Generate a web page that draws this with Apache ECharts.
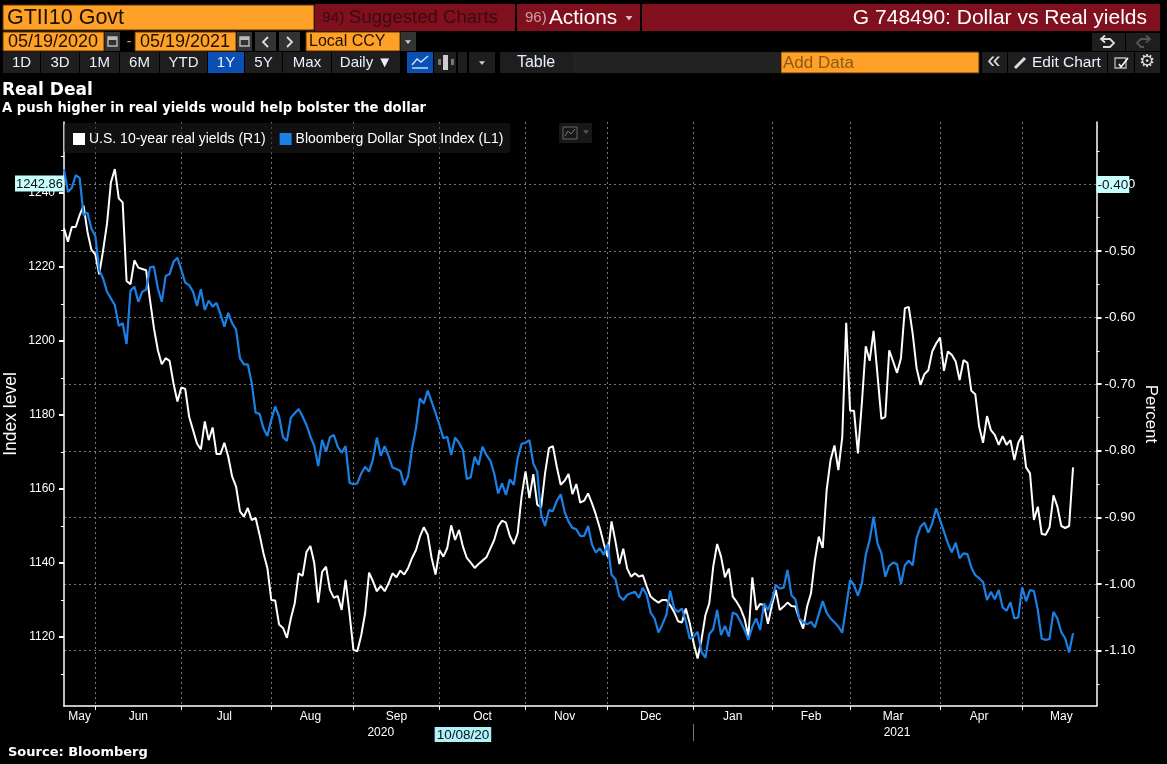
<!DOCTYPE html>
<html><head><meta charset="utf-8">
<style>html,body{margin:0;padding:0;background:#000;overflow:hidden}#c{width:1167px;height:764px}</style>
<script src="https://cdn.jsdelivr.net/npm/echarts@6/dist/echarts.min.js"></script>
</head><body><div id="c"></div>
<script>
const dollarIndex=[
1246.4,1240.3,1241.4,1244.8,1244.1,1234,1234.7,1230.4,1228.4,1219.2,
1216.9,1213.3,1211.5,1209.7,1204.1,1204.8,1199.2,1213.6,1214.7,1210.6,
1213.3,1213.9,1219.9,1220.1,1214.2,1210.6,1217.6,1218.1,1221.4,1222.5,
1219.2,1215.8,1215.1,1213.3,1209.5,1214,1208.4,1210.9,1209.3,1210.3,
1207.3,1203.9,1207.6,1204.8,1203.1,1195.3,1193.7,1193.7,1188.6,1180.6,
1180.3,1176.4,1174.3,1178.7,1182.3,1179.6,1174,1173,1179.3,1180.5,
1181.6,1179.6,1177.3,1174.2,1171.6,1166.2,1173.3,1170.1,1174,1174.6,
1171.4,1169.8,1171.6,1161.7,1161.3,1161.5,1164.2,1166,1164.7,1168,
1173.9,1169,1171.6,1168.9,1165.8,1165.4,1164.9,1161.1,1163.5,1171,
1176.4,1184.5,1183.1,1186.6,1183.6,1180.5,1177.3,1173.7,1174.1,1169.2,
1173.9,1172.5,1170.5,1162.7,1163.2,1168.7,1166.5,1171.4,1169.2,1167.7,
1164.2,1158.8,1161.5,1158.4,1162.6,1161.1,1168.3,1172.2,1172.5,1173.2,
1166.9,1164.7,1153,1150,1154.3,1154,1156.8,1158.6,1153.9,1151.2,
1149.5,1149.1,1147.3,1147.3,1150,1145,1142.8,1144,1142.2,1145.1,
1136.8,1135.6,1131.1,1130,1131.4,1131.8,1132.2,1130.6,1133.3,1131.3,
1126.6,1125,1121.2,1123.4,1125.9,1132.5,1127.7,1126.8,1127.7,1124.1,
1119.5,1120.1,1121.4,1116,1114.4,1120.8,1122.1,1127.3,1120.5,1123,
1120.1,1126.6,1126.1,1124.1,1121.9,1119.2,1122.8,1125,1121.9,1129.1,
1127.3,1130,1134,1133.1,1133.3,1138.1,1131.3,1130.2,1125,1124.1,
1123.4,1124.1,1122.6,1126.2,1129.7,1126.6,1125,1124,1122.8,1121.2,
1128.2,1135.4,1134,1131.2,1134.5,1142.2,1146.2,1152.5,1145.3,1142.6,
1136.3,1139.2,1140.1,1139.7,1134.3,1139.4,1140.6,1139.4,1146.7,1149.8,
1150.9,1148.2,1150.7,1154.8,1151.6,1148.5,1145.3,1142.9,1145.5,1141.3,
1142.6,1142.4,1138.8,1136.7,1135.9,1134.8,1130,1132.2,1130.2,1132.7,
1128,1127.1,1129.4,1125,1125.3,1133.4,1129.7,1132.7,1132.4,1127.3,
1119.6,1119.2,1119.5,1126.8,1125,1121.3,1119.6,1115.8,1121];
const realYields=[
-.466,-.486,-.464,-.464,-.446,-.432,-.471,-.498,-.505,-.535,
-.499,-.459,-.397,-.377,-.421,-.427,-.545,-.550,-.514,-.525,
-.527,-.529,-.574,-.616,-.649,-.670,-.661,-.665,-.699,-.726,
-.705,-.707,-.749,-.769,-.789,-.798,-.756,-.784,-.765,-.805,
-.805,-.788,-.809,-.839,-.854,-.891,-.899,-.886,-.904,-.901,
-.926,-.954,-.976,-1.024,-1.025,-1.061,-1.066,-1.081,-1.052,-1.029,
-.984,-.988,-.952,-.943,-.969,-1.028,-.982,-.974,-1.009,-1.021,
-1.018,-1.039,-.994,-1.044,-1.099,-1.101,-1.077,-1.044,-.983,-.996,
-1.011,-1.003,-1.011,-.999,-.984,-.990,-.980,-.986,-.976,-.961,
-.949,-.929,-.915,-.926,-.961,-.986,-.949,-.959,-.946,-.912,
-.934,-.919,-.944,-.961,-.968,-.976,-.970,-.965,-.960,-.947,
-.934,-.914,-.905,-.908,-.928,-.940,-.924,-.869,-.831,-.871,
-.835,-.881,-.885,-.834,-.796,-.793,-.824,-.851,-.845,-.835,
-.865,-.850,-.878,-.875,-.864,-.879,-.896,-.916,-.939,-.959,
-.906,-.936,-.970,-.947,-.977,-.989,-.984,-.989,-.987,-1.004,
-1.019,-1.024,-1.028,-1.024,-1.024,-1.032,-1.042,-1.056,-1.058,-1.037,
-1.059,-1.089,-1.112,-1.084,-1.047,-1.029,-.974,-.940,-.959,-.990,
-.977,-1.019,-1.027,-1.037,-1.052,-1.079,-.990,-1.039,-1.030,-1.032,
-1.060,-1.032,-1.009,-1.039,-1.034,-1.028,-1.033,-1.034,-1.052,-1.067,
-1.034,-1.014,-.964,-.929,-.946,-.859,-.814,-.792,-.829,-.779,
-.608,-.740,-.740,-.804,-.729,-.643,-.665,-.620,-.686,-.752,
-.749,-.649,-.666,-.683,-.661,-.586,-.584,-.624,-.676,-.701,
-.685,-.679,-.651,-.639,-.630,-.680,-.651,-.656,-.666,-.694,
-.664,-.668,-.710,-.715,-.764,-.788,-.748,-.769,-.776,-.791,
-.778,-.791,-.784,-.814,-.788,-.777,-.825,-.834,-.904,-.884,
-.925,-.926,-.915,-.867,-.884,-.913,-.916,-.913,-.825];
const leftTicks=[1120,1140,1160,1180,1200,1220,1240];
const leftMinorTicks=[1110,1130,1150,1170,1190,1210,1230,1250];
const rightTicks=[-1.10,-1.00,-0.90,-0.80,-0.70,-0.60,-0.50,-0.40];
const rightMinorTicks=[-1.15,-1.05,-0.95,-0.85,-0.75,-0.65,-0.55,-0.45,-0.35];
const monthLabels=['May','Jun','Jul','Aug','Sep','Oct','Nov','Dec','Jan','Feb','Mar','Apr','May'];
const monthLabelIdx=[4,19,41,63,85,107,128,150,171,191,212,234,255];
const holidays=['2020-12-25','2021-01-01','2021-04-02'];

// business-day category axis
const dates=[];
for(let d=new Date(Date.UTC(2020,4,20));dates.length<265;d=new Date(d.getTime()+864e5)){
  const w=d.getUTCDay(),s=d.toISOString().slice(0,10);
  if(w!==0&&w!==6&&holidays.indexOf(s)<0)dates.push(s);
}
const monthStart=new Set();
dates.forEach((s,i)=>{if(i>0&&s.slice(5,7)!==dates[i-1].slice(5,7))monthStart.add(i);});
const yearMark={};yearMark[81]='2020';yearMark[213]='2021';yearMark[102]='{tag|10/08/20}';
const yearSep=dates.findIndex(s=>s.startsWith('2021'));

const F='"Liberation Sans",Arial,sans-serif';
const ORANGE='#ffa028',RED='#80101e',BTN='#1e1e1e';
const g=[];
function box(x,y,w,h,fill,stroke){g.push({type:'rect',shape:{x,y,width:w,height:h},style:{fill,stroke:stroke||null,lineWidth:stroke?1:0},silent:true});}
function txt(t,x,y,size,color,align,weight,family){g.push({type:'text',x,y,style:{text:t,fill:color,fontSize:size,fontFamily:family||F,fontWeight:weight||'normal',align:align||'center',verticalAlign:'middle'},silent:true});}
function poly(points,stroke,w,fill){g.push({type:'polyline',shape:{points},style:{stroke,lineWidth:w||1.5,fill:fill||null},silent:true});}
function tri(x,y,s,c){g.push({type:'polygon',shape:{points:[[x-s,y-s*.6],[x+s,y-s*.6],[x,y+s*.7]]},style:{fill:c},silent:true});}
function cal(x,y){box(x,y,15,19,'#333');g.push({type:'rect',shape:{x:x+3,y:y+5,width:9,height:9},style:{fill:null,stroke:'#bbb',lineWidth:1.4},silent:true});box(x+3,y+5,9,3,'#bbb');}

// row 1
box(3,5,311,25,ORANGE,'#5a3400');txt('GTII10 Govt',7,18,21.5,'#1c1200','left');
box(315,4,200,27,RED);txt('94)',322,18,15.5,'#3b0a14','left');txt('Suggested Charts',349,18,18.6,'#3b0a14','left');
box(517,4,123,27,RED);txt('96)',525,18,15,'#c9a0a6','left');txt('Actions',549,18,20.8,'#ffffff','left');tri(629,18,3.5,'#d8c0c4');
box(642,4,518,27,RED);txt('G 748490: Dollar vs Real yields',1147,18,21,'#ffffff','right');
// row 2
box(3,32,101,19,ORANGE,'#5a3400');txt('05/19/2020',8,42,18,'#1c1200','left');cal(105,32);
txt('-',129,42,14,ORANGE);
box(135,32,101,19,ORANGE,'#5a3400');txt('05/19/2021',140,42,18,'#1c1200','left');cal(237,32);
box(255,32,21,19,'#333');poly([[268,37],[263,42],[268,47]],'#ddd',1.8);
box(279,32,21,19,'#333');poly([[287,37],[292,42],[287,47]],'#ddd',1.8);
box(306,32,94,19,ORANGE,'#5a3400');txt('Local CCY',309,42,16,'#1c1200','left');
box(401,32,15,19,'#333');tri(408,42,3,'#ccc');
box(1092,33,33,18,'#1e1e1e');poly([[1102,39],[1110,39],[1114,43],[1110,47],[1103,47]],'#ddd',1.8);poly([[1105,35.5],[1101,39],[1105,42.5]],'#ddd',1.8);
box(1126,33,34,18,'#1e1e1e');poly([[1149,39],[1141,39],[1137,43],[1141,47],[1144,47]],'#555',1.8);poly([[1146,35.5],[1150,39],[1146,42.5]],'#555',1.8);
// row 3
const rangeBtns=[['1D',3,37],['3D',41,38],['1M',80,39],['6M',120,39],['YTD',160,47],['1Y',208,36],['5Y',245,37],['Max',283,48],['Daily ▼',332,68]];
rangeBtns.forEach(b=>{box(b[1],52,b[2],21,b[0]==='1Y'?'#0a4fb4':BTN);txt(b[0],b[1]+b[2]/2,63,15,'#e8f0ff');});
box(407,52,26,21,'#0a4fb4');poly([[412,65],[417,59],[421,62],[428,56]],'#cfe4ff',1.4);poly([[412,68],[428,68]],'#cfe4ff',1.4);
box(434,52,22,21,BTN);box(443,55,5,15,'#ccc');box(438,59,3,6,'#777');box(451,59,3,6,'#777');
box(458,52,9,21,BTN);box(469,52,26,21,BTN);tri(482,63,3,'#ccc');
box(500,52,280,21,'#222220');box(500,52,73,21,BTN);txt('Table',536,63,16,'#e8f0ff');
box(781,52,198,21,ORANGE,'#5a3400');txt('Add Data',783,63,17,'#8a5a14','left');
box(982,52,25,21,BTN);txt('«',994,61,24,'#ddd');
box(1008,52,99,21,BTN);poly([[1015,68],[1025,58]],'#ddd',3);txt('Edit Chart',1032,63,15.5,'#e8f0ff','left');
box(1108,52,26,21,BTN);g.push({type:'rect',shape:{x:1115,y:58,width:11,height:10},style:{fill:null,stroke:'#bbb',lineWidth:1.3},silent:true});poly([[1119,64],[1121,67],[1128,58]],'#fff',1.6);
box(1135,52,25,21,BTN);txt('⚙',1147,62,18,'#ddd','center','normal','"DejaVu Sans"');
// titles
txt('Real Deal',2,90.5,17,'#ffffff','left','bold','"DejaVu Sans"');
txt('A push higher in real yields would help bolster the dollar',2,108.5,13.2,'#ffffff','left','bold','"DejaVu Sans"');
txt('Source: Bloomberg',8,753,13,'#ffffff','left','bold','"DejaVu Sans"');
// chart-type chip
box(559,123,33,20,'#181818');g.push({type:'rect',shape:{x:563,y:127,width:14,height:12},style:{fill:null,stroke:'#666',lineWidth:1},silent:true});poly([[565,136],[568,131],[571,134],[575,129]],'#777',1);tri(586,132,3,'#555');

const dash={color:'#777',type:[2,3],width:1};
const axisBase={type:'value',scale:true};
const option={
  backgroundColor:'#000',animation:false,
  textStyle:{fontFamily:F},
  grid:{left:64,top:122,width:1032.5,height:584,containLabel:false,outerBoundsMode:'none'},
  graphic:g,
  legend:{left:64,top:123,padding:[9,7,7,9],itemWidth:12,itemHeight:12,itemGap:14,icon:'rect',
    backgroundColor:'rgba(30,30,30,0.55)',borderRadius:3,
    textStyle:{color:'#fff',fontSize:14,fontFamily:F,padding:[0,0,0,-1]},
    data:['U.S. 10-year real yields (R1)','Bloomberg Dollar Spot Index (L1)']},
  xAxis:[{type:'category',data:dates,boundaryGap:false,position:'bottom',
      axisLine:{lineStyle:{color:'#fff',width:1.5}},
      axisTick:{length:4,lineStyle:{color:'#fff'},interval:(i)=>monthStart.has(i)},
      splitLine:{show:true,lineStyle:dash,interval:(i)=>monthStart.has(i)},
      axisLabel:{color:'#fff',fontSize:12,margin:5,interval:(i)=>monthLabelIdx.includes(i),
        formatter:(v,i)=>monthLabels[monthLabelIdx.indexOf(i)]||''}},
    {type:'category',data:dates,boundaryGap:false,position:'bottom',offset:18,
      axisLine:{show:false},
      axisTick:{show:true,length:17,inside:false,lineStyle:{color:'#777'},interval:(i)=>i===yearSep},
      splitLine:{show:false},
      axisLabel:{color:'#fff',fontSize:12,margin:3,interval:(i)=>i in yearMark,
        formatter:(v,i)=>yearMark[i]||'',
        rich:{tag:{backgroundColor:'#aef2fa',color:'#111',fontSize:13.5,padding:[1,2,0,2]}}}}],
  yAxis:[
    {...axisBase,position:'left',min:1101.35,max:1259.2,name:'Index level',nameLocation:'middle',nameRotate:90,nameGap:44,nameMoveOverlap:false,
      nameTextStyle:{color:'#fff',fontSize:17.5,fontFamily:F},
      axisLine:{show:true,lineStyle:{color:'#fff',width:1.5}},
      axisTick:{show:true,length:5,lineStyle:{color:'#fff',width:2},customValues:leftTicks},
      axisLabel:{show:true,color:'#fff',fontSize:12,margin:9,padding:[2,0,0,0],customValues:leftTicks,formatter:v=>String(v)},splitLine:{show:false}},
    {...axisBase,position:'right',min:-1.1833,max:-0.3063,name:'Percent',nameLocation:'middle',nameRotate:-90,nameGap:46,nameMoveOverlap:false,
      nameTextStyle:{color:'#fff',fontSize:17,fontFamily:F},
      axisLine:{show:true,lineStyle:{color:'#fff',width:1.5}},
      axisTick:{show:true,length:5,lineStyle:{color:'#fff',width:2},customValues:rightTicks},
      axisLabel:{show:true,color:'#fff',fontSize:13.5,margin:8,padding:[2,0,0,0],customValues:rightTicks,formatter:v=>v.toFixed(2)},
      splitLine:{show:true,lineStyle:dash}},
    {...axisBase,position:'left',min:1101.35,max:1259.2,
      axisLine:{show:false},axisTick:{show:true,length:3,lineStyle:{color:'#fff'},customValues:leftMinorTicks},
      axisLabel:{show:true,margin:0,padding:[2,0,0,0],customValues:[1242.86],formatter:v=>'{t|'+v.toFixed(2)+'}',
        rich:{t:{backgroundColor:'#c8ffff',color:'#111',fontSize:13,padding:[2,1,1,1]}}},splitLine:{show:false}},
    {...axisBase,position:'right',min:-1.1833,max:-0.3063,
      axisLine:{show:false},axisTick:{show:true,length:3,lineStyle:{color:'#fff'},customValues:rightMinorTicks},
      axisLabel:{show:true,margin:0,customValues:[-0.40],formatter:v=>'{t|'+v.toFixed(2)+'}',
        rich:{t:{backgroundColor:'#c8ffff',color:'#111',fontSize:13.5,padding:[2,1,1,1]}}},splitLine:{show:false}}
  ],
  series:[
    {name:'U.S. 10-year real yields (R1)',type:'line',yAxisIndex:1,data:realYields,showSymbol:false,symbol:'none',
      lineStyle:{color:'#ffffff',width:2},itemStyle:{color:'#ffffff'},z:3},
    {name:'Bloomberg Dollar Spot Index (L1)',type:'line',yAxisIndex:0,data:dollarIndex,showSymbol:false,symbol:'none',
      lineStyle:{color:'#1a80e6',width:2.2},itemStyle:{color:'#1a80e6'},z:4}
  ]
};
echarts.init(document.getElementById('c')).setOption(option);
</script></body></html>
